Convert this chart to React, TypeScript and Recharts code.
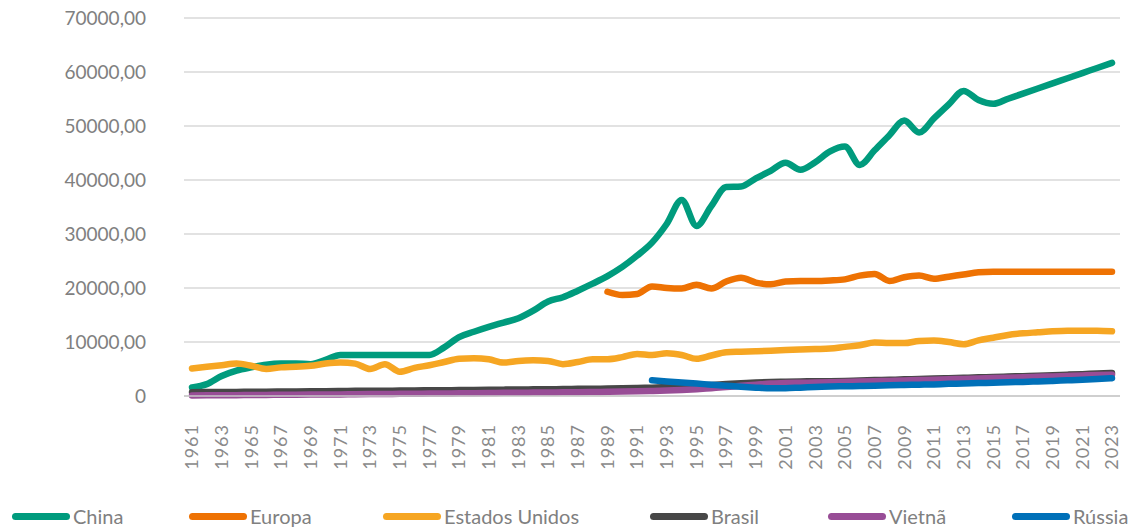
import React from 'react';
import { LineChart, Line, XAxis, YAxis, CartesianGrid } from 'recharts';

const years = Array.from({ length: 63 }, (_, i) => String(1961 + i));

const china = [
  1600, 2200, 3700, 4700, 5300, 5800, 6000, 6000, 5900, 6700,
  7600, 7600, 7600, 7600, 7600, 7600, 7600, 9000, 10900, 11900,
  12800, 13600, 14400, 15800, 17500, 18300, 19500, 20800, 22200, 23900,
  26000, 28400, 31900, 36300, 31500, 35200, 38700, 38800, 40300, 41700,
  43200, 41900, 43300, 45300, 46200, 42800, 45500, 48300, 51000, 48800,
  51400, 54000, 56500, 54800, 54100, 55050, 56000, 56950, 57900, 58850,
  59800, 60750, 61700,
];

const europa = [
  null, null, null, null, null, null, null, null, null, null,
  null, null, null, null, null, null, null, null, null, null,
  null, null, null, null, null, null, null, null, 19300, 18700,
  18900, 20300, 20000, 19900, 20600, 19900, 21200, 21900, 21000, 20700,
  21200, 21300, 21300, 21400, 21600, 22300, 22600, 21300, 22000, 22300,
  21700, 22100, 22500, 22900, 23000, 23000, 23000, 23000, 23000, 23000,
  23000, 23000, 23000,
];

const estadosUnidos = [
  5100, 5400, 5700, 6000, 5600, 5000, 5300, 5400, 5600, 6000,
  6200, 6000, 5000, 5900, 4500, 5200, 5700, 6300, 6900, 7000,
  6800, 6200, 6500, 6600, 6500, 5900, 6300, 6800, 6800, 7200,
  7800, 7600, 7900, 7600, 6900, 7500, 8100, 8200, 8300, 8400,
  8500, 8600, 8700, 8800, 9100, 9400, 9900, 9800, 9800, 10200,
  10300, 10000, 9600, 10300, 10800, 11300, 11600, 11800, 12000, 12100,
  12100, 12100, 12000,
];

const brasil = [
  700, 720, 750, 760, 800, 810, 830, 850, 870, 900,
  920, 950, 960, 990, 1000, 1030, 1050, 1070, 1100, 1120,
  1150, 1180, 1200, 1230, 1260, 1280, 1320, 1350, 1380, 1420,
  1480, 1550, 1650, 1750, 1900, 2050, 2200, 2350, 2500, 2600,
  2650, 2700, 2720, 2750, 2800, 2880, 2950, 3000, 3080, 3150,
  3230, 3300, 3380, 3450, 3530, 3600, 3680, 3750, 3850, 3950,
  4050, 4150, 4250,
];

const vietna = [
  100, 120, 140, 160, 180, 200, 220, 240, 260, 280,
  300, 320, 350, 370, 400, 420, 450, 470, 500, 520,
  550, 580, 600, 630, 660, 680, 710, 740, 780, 820,
  870, 930, 1000, 1100, 1250, 1450, 1650, 1900, 2100, 2300,
  2400, 2450, 2500, 2550, 2600, 2680, 2750, 2800, 2880, 2950,
  3020, 3100, 3170, 3250, 3320, 3400, 3470, 3550, 3630, 3720,
  3800, 3880, 3950,
];

const russia = [
  null, null, null, null, null, null, null, null, null, null,
  null, null, null, null, null, null, null, null, null, null,
  null, null, null, null, null, null, null, null, null, null,
  null, 2900, 2700, 2500, 2300, 2100, 1900, 1700, 1550, 1450,
  1450, 1550, 1650, 1750, 1800, 1850, 1900, 2000, 2050, 2100,
  2150, 2250, 2300, 2400, 2450, 2550, 2600, 2700, 2800, 2900,
  3000, 3150, 3300,
];

const yTicks = [0, 10000, 20000, 30000, 40000, 50000, 60000, 70000];

const series = [
  { key: 'china', name: 'China', color: '#009B7D', values: china },
  { key: 'europa', name: 'Europa', color: '#EE7203', values: europa },
  { key: 'eua', name: 'Estados Unidos', color: '#F6A623', values: estadosUnidos },
  { key: 'brasil', name: 'Brasil', color: '#474747', values: brasil },
  { key: 'vietna', name: 'Vietnã', color: '#984D96', values: vietna },
  { key: 'russia', name: 'Rússia', color: '#0070B8', values: russia },
];

const data = years.map((year, i) => {
  const row: Record<string, string | number | null> = { year };
  series.forEach((s) => {
    row[s.key] = s.values[i];
  });
  return row;
});

const FONT = 'Lato, "Open Sans", sans-serif';
const legendLeft = [12, 189, 383, 650, 828, 1012];

function YearTick(props: any) {
  const { x, y, payload } = props;
  return (
    <text
      x={x}
      y={y}
      transform={`rotate(-90, ${x}, ${y})`}
      textAnchor="end"
      dy="0.35em"
      dx={-20}
      fill="#8a8a8a"
      fontSize={18}
      letterSpacing={1}
      fontFamily={FONT}
    >
      {payload.value}
    </text>
  );
}

export default function App() {
  return (
    <div style={{ position: 'absolute', left: 0, top: 0, width: 1137, height: 530, background: '#fff', overflow: 'hidden' }}>
      <LineChart width={1137} height={530} data={data} margin={{ top: 18, right: 17, left: 0, bottom: 0 }}>
        <CartesianGrid vertical={false} stroke="#d9d9d9" strokeWidth={1.5} />
        <XAxis
          dataKey="year"
          interval={1}
          height={134}
          padding={{ left: 8, right: 8 }}
          tickLine={false}
          axisLine={{ stroke: '#c8c8c8', strokeWidth: 1.5 }}
          tick={<YearTick />}
        />
        <YAxis
          width={184}
          domain={[0, 70000]}
          ticks={yTicks}
          tickLine={false}
          axisLine={false}
          tickSize={0}
          tickMargin={38}
          tick={{ fill: '#808080', fontSize: 19, fontFamily: FONT }}
          tickFormatter={(v: number) => (v === 0 ? '0' : `${v},00`)}
        />
        {series.map((s) => (
          <Line
            key={s.key}
            type="monotone"
            dataKey={s.key}
            name={s.name}
            stroke={s.color}
            strokeWidth={6.5}
            strokeLinecap="round"
            strokeLinejoin="round"
            dot={false}
            activeDot={false}
            connectNulls={false}
            isAnimationActive={false}
          />
        ))}
      </LineChart>
      {series.map((s, i) => (
        <div
          key={s.key}
          style={{
            position: 'absolute',
            left: legendLeft[i],
            top: 504,
            display: 'flex',
            alignItems: 'center',
            fontFamily: FONT,
            fontSize: 20,
            color: '#808080',
            whiteSpace: 'nowrap',
            lineHeight: '24px',
          }}
        >
          <span style={{ display: 'inline-block', width: 58, height: 7, borderRadius: 4, background: s.color, marginRight: 3 }} />
          <span>{s.name}</span>
        </div>
      ))}
    </div>
  );
}
